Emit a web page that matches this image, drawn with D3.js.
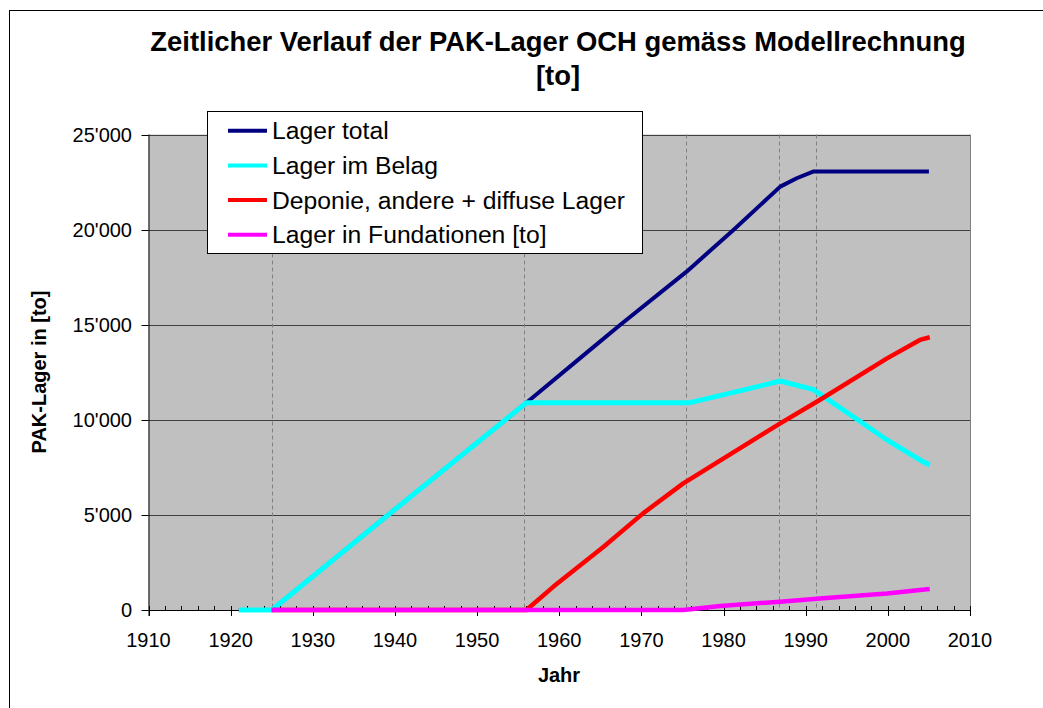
<!DOCTYPE html>
<html>
<head>
<meta charset="utf-8">
<script src="https://cdn.jsdelivr.net/npm/d3@7"></script>
<style>
  body { margin: 0; background: #fff; }
  text { font-family: Arial, "Liberation Sans", sans-serif; }
</style>
</head>
<body>
<div id="app"></div>
<script>
const title = ['Zeitlicher Verlauf der PAK-Lager OCH gemäss Modellrechnung', '[to]']
const xTitle = 'Jahr'
const yTitle = 'PAK-Lager in [to]'

const seriesNames = ['Lager total', 'Lager im Belag', 'Deponie, andere + diffuse Lager', 'Lager in Fundationen [to]']
const seriesColors = ['#000080', '#00ffff', '#ff0000', '#ff00ff']

const totalYears = [1921, 1925, 1939.4, 1956, 1962.5, 1967.4, 1975.5, 1981.2, 1986.9, 1988.9, 1990.9, 2005]
const totalValues = [0, 0, 5080, 10900, 13230, 14980, 17790, 19980, 22260, 22700, 23050, 23050]

const belagYears = [1921, 1925, 1939.4, 1956, 1975.9, 1981.6, 1986.9, 1990.9, 1995.8, 1999.9, 2003.9, 2005.1]
const belagValues = [0, 0, 5080, 10900, 10900, 11480, 12040, 11600, 10160, 8940, 7890, 7620]

const deponieYears = [1925, 1956, 1959.3, 1965.4, 1970.2, 1975.1, 1986.9, 1991.7, 1999.9, 2003.9, 2005.1]
const deponieValues = [0, 0, 1230, 3330, 5080, 6660, 9810, 11040, 13230, 14200, 14340]

const fundYears = [1925, 1975.1, 1979.6, 1986.9, 1991.7, 1999.9, 2003.9, 2005.1]
const fundValues = [0, 0, 210, 440, 610, 870, 1050, 1100]

const markerYears = [1925, 1955.7, 1975.4, 1986.8, 1991.2]
const yTicks = [0, 5000, 10000, 15000, 20000, 25000]
const xTicks = [1910, 1920, 1930, 1940, 1950, 1960, 1970, 1980, 1990, 2000, 2010]

const series = [
  {years: totalYears, values: totalValues, width: 4},
  {years: belagYears, values: belagValues, width: 5},
  {years: deponieYears, values: deponieValues, width: 4.5},
  {years: fundYears, values: fundValues, width: 4.5},
].map((s, i) => ({
  name: seriesNames[i],
  color: seriesColors[i],
  width: s.width,
  points: s.years.map((yr, j) => ({x: yr, y: s.values[j]})),
}))

const W = 1043, H = 708
const plot = {left: 148.5, right: 970, top: 134.5, bottom: 610}

const svg = d3.select('#app').append('svg').attr('width', W).attr('height', H)

// outer frame
svg.append('rect')
  .attr('x', 9.5).attr('y', 10.5).attr('width', 1100).attr('height', 800)
  .attr('fill', '#fff').attr('stroke', '#000')

const x = d3.scaleLinear().domain([1910, 2010]).range([plot.left, plot.right])
const y = d3.scaleLinear().domain([0, 25000]).range([plot.bottom, plot.top])

svg.append('rect')
  .attr('x', plot.left).attr('y', plot.top)
  .attr('width', plot.right - plot.left).attr('height', plot.bottom - plot.top)
  .attr('fill', '#c0c0c0')

// right border
svg.append('line')
  .attr('x1', plot.right + 0.5).attr('x2', plot.right + 0.5)
  .attr('y1', plot.top).attr('y2', plot.bottom)
  .attr('stroke', '#808080')

// grid
svg.append('g').selectAll('line').data(yTicks.slice(1)).join('line')
  .attr('x1', plot.left).attr('x2', plot.right)
  .attr('y1', (d) => Math.round(y(d)) + 0.5).attr('y2', (d) => Math.round(y(d)) + 0.5)
  .attr('stroke', '#404040')

// dashed markers
svg.append('g').selectAll('line').data(markerYears).join('line')
  .attr('x1', (d) => Math.round(x(d)) + 0.5).attr('x2', (d) => Math.round(x(d)) + 0.5)
  .attr('y1', plot.top).attr('y2', plot.bottom)
  .attr('stroke', '#808080').attr('stroke-dasharray', '4,3')

// x axis
const minor = d3.range(1910, 2011, 2)
const xAxis = svg.append('g')
xAxis.selectAll('line.minor').data(minor).join('line')
  .attr('class', 'minor')
  .attr('x1', (d) => Math.round(x(d)) + 0.5).attr('x2', (d) => Math.round(x(d)) + 0.5)
  .attr('y1', plot.bottom - 4).attr('y2', plot.bottom)
  .attr('stroke', '#000')
xAxis.selectAll('line.major').data(xTicks).join('line')
  .attr('class', 'major')
  .attr('x1', (d) => Math.round(x(d)) + 0.5).attr('x2', (d) => Math.round(x(d)) + 0.5)
  .attr('y1', plot.bottom - 4).attr('y2', plot.bottom + 6)
  .attr('stroke', '#000')
xAxis.append('line')
  .attr('x1', plot.left).attr('x2', plot.right + 1)
  .attr('y1', plot.bottom + 0.5).attr('y2', plot.bottom + 0.5)
  .attr('stroke', '#000')
xAxis.selectAll('text').data(xTicks).join('text')
  .attr('x', (d) => x(d)).attr('y', 647)
  .attr('text-anchor', 'middle').attr('font-size', 20)
  .text((d) => d)

// y axis
const fmt = (v) => d3.format(',')(v).replace(/,/g, "'")
const yAxis = svg.append('g')
yAxis.append('line')
  .attr('x1', plot.left + 0.5).attr('x2', plot.left + 0.5)
  .attr('y1', plot.top).attr('y2', plot.bottom + 6)
  .attr('stroke', '#000')
yAxis.selectAll('line.tick').data(yTicks).join('line')
  .attr('class', 'tick')
  .attr('x1', plot.left - 7).attr('x2', plot.left)
  .attr('y1', (d) => Math.round(y(d)) + 0.5).attr('y2', (d) => Math.round(y(d)) + 0.5)
  .attr('stroke', '#000')
yAxis.selectAll('text').data(yTicks).join('text')
  .attr('x', 132).attr('y', (d) => y(d) + 7)
  .attr('text-anchor', 'end').attr('font-size', 20)
  .text(fmt)

// lines
const line = d3.line().x((d) => x(d.x)).y((d) => y(d.y))
svg.append('g').selectAll('path').data(series).join('path')
  .attr('d', (d) => line(d.points))
  .attr('fill', 'none')
  .attr('stroke', (d) => d.color)
  .attr('stroke-width', (d) => d.width)
  .attr('stroke-linejoin', 'round')

// titles
svg.append('text')
  .attr('x', 558).attr('y', 51)
  .attr('text-anchor', 'middle').attr('font-size', 27.4).attr('font-weight', 'bold')
  .text(title[0])
svg.append('text')
  .attr('x', 558).attr('y', 85)
  .attr('text-anchor', 'middle').attr('font-size', 27.4).attr('font-weight', 'bold')
  .text(title[1])
svg.append('text')
  .attr('x', 559).attr('y', 682)
  .attr('text-anchor', 'middle').attr('font-size', 20).attr('font-weight', 'bold')
  .text(xTitle)
svg.append('text')
  .attr('transform', 'translate(46,372) rotate(-90)')
  .attr('text-anchor', 'middle').attr('font-size', 20).attr('font-weight', 'bold')
  .text(yTitle)

// legend
const legend = svg.append('g')
legend.append('rect')
  .attr('x', 207.5).attr('y', 111.5).attr('width', 435).attr('height', 142)
  .attr('fill', '#fff').attr('stroke', '#000')
const rows = legend.selectAll('g').data(series).join('g')
  .attr('transform', (d, i) => `translate(0,${130.7 + i * 34.7})`)
rows.append('line')
  .attr('x1', 228).attr('x2', 267).attr('y1', 0).attr('y2', 0)
  .attr('stroke', (d) => d.color).attr('stroke-width', 4)
rows.append('text')
  .attr('x', 272).attr('y', 8.5).attr('font-size', 24.7)
  .text((d) => d.name)
</script>
</body>
</html>
